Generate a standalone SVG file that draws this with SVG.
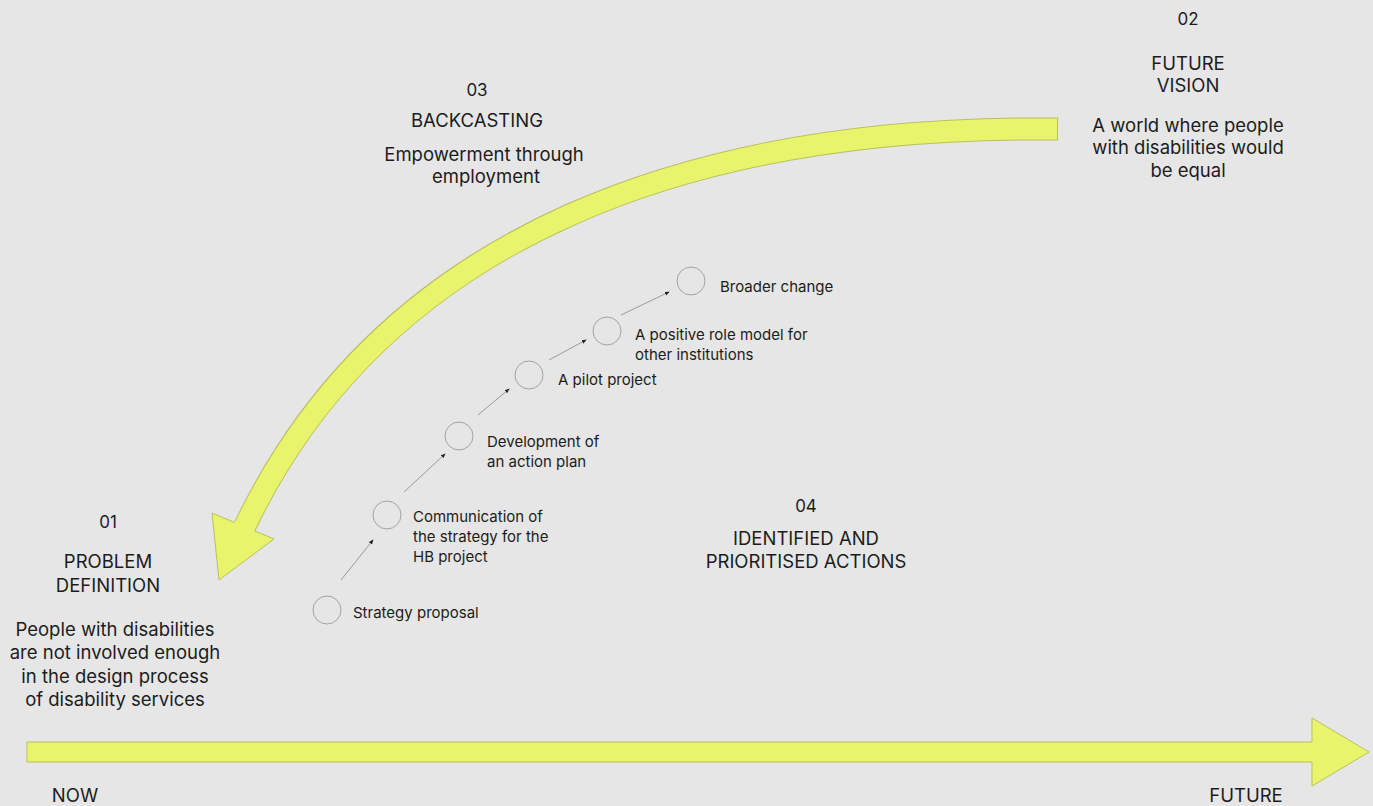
<svg xmlns="http://www.w3.org/2000/svg" width="1373" height="806" viewBox="0 0 1373 806">
  <style>
    .bg { fill: #e6e6e6; }
    .band-edge { fill: none; stroke: #b9c05e; stroke-width: 23; }
    .band { fill: none; stroke: #e8f56c; stroke-width: 21; }
    .head { fill: #e8f56c; stroke: #b9c05e; stroke-width: 1; stroke-linejoin: miter; }
    .step { fill: none; stroke: #a3a3a3; stroke-width: 1; }
    .link { fill: none; stroke: #777; stroke-width: 0.7; }
    text { font-family: Inter, "Liberation Sans", sans-serif; fill: #1c1c1c; }
    .num { font-size: 17px; text-anchor: middle; }
    .title { font-size: 18.5px; text-anchor: middle; }
    .body { font-size: 18.5px; text-anchor: middle; }
    .small { font-size: 15px; }
  </style>
  <defs>
    <marker id="tip" viewBox="0 0 6 6" refX="5" refY="3" markerWidth="5" markerHeight="5" markerUnits="userSpaceOnUse" orient="auto">
      <path d="M0,0.6 L6,3 L0,5.4 Z" fill="#222"/>
    </marker>
  </defs>

  <rect class="bg" x="0" y="0" width="1373" height="806"/>

  <!-- large arrows -->
  <g id="connectors">
    <!-- timeline arrow: now to future -->
    <path id="timeline" class="head" d="M27,742 L1312,742 L1312,718 L1369,752 L1312,786 L1312,762 L27,762 Z"/>
    <!-- backcasting arc from future vision back to problem definition -->
    <g id="backcast-arc">
      <path class="band-edge" d="M1058,129 C700,125 387,229 245,526"/>
      <polygon class="head" points="212,513 274,539 219,580"/>
      <path class="band" d="M1057,129 C700,125 387,229 244,528"/>
    </g>
    <!-- steps between actions -->
    <line class="link" x1="341" y1="580" x2="373" y2="540" marker-end="url(#tip)"/>
    <line class="link" x1="404" y1="492" x2="445" y2="454" marker-end="url(#tip)"/>
    <line class="link" x1="478" y1="415" x2="509" y2="389" marker-end="url(#tip)"/>
    <line class="link" x1="549" y1="360" x2="586" y2="340" marker-end="url(#tip)"/>
    <line class="link" x1="621" y1="315" x2="669" y2="292" marker-end="url(#tip)"/>
  </g>

  <!-- phase labels -->
  <g id="problem-definition">
    <text class="num" x="108" y="528">01</text>
    <text class="title" x="108" y="568">PROBLEM</text>
    <text class="title" x="108" y="592">DEFINITION</text>
    <text class="body" x="115" y="636">People with disabilities</text>
    <text class="body" x="115" y="659">are not involved enough</text>
    <text class="body" x="115" y="683">in the design process</text>
    <text class="body" x="115" y="706">of disability services</text>
  </g>

  <g id="future-vision">
    <text class="num" x="1188" y="25">02</text>
    <text class="title" x="1188" y="70">FUTURE</text>
    <text class="title" x="1188" y="92">VISION</text>
    <text class="body" x="1188" y="132">A world where people</text>
    <text class="body" x="1188" y="154">with disabilities would</text>
    <text class="body" x="1188" y="177">be equal</text>
  </g>

  <g id="backcasting">
    <text class="num" x="477" y="96">03</text>
    <text class="title" x="477" y="127">BACKCASTING</text>
    <text class="body" x="484" y="161">Empowerment through</text>
    <text class="body" x="486" y="183">employment</text>
  </g>

  <g id="identified-actions">
    <text class="num" x="806" y="512">04</text>
    <text class="title" x="806" y="545">IDENTIFIED AND</text>
    <text class="title" x="806" y="568">PRIORITISED ACTIONS</text>
  </g>

  <!-- action steps -->
  <g id="strategy-proposal">
    <circle class="step" cx="327" cy="610" r="14"/>
    <text class="small" x="353" y="618">Strategy proposal</text>
  </g>
  <g id="communication">
    <circle class="step" cx="387" cy="515" r="14"/>
    <text class="small" x="413" y="522">Communication of</text>
    <text class="small" x="413" y="542">the strategy for the</text>
    <text class="small" x="413" y="562">HB project</text>
  </g>
  <g id="action-plan">
    <circle class="step" cx="459" cy="436" r="14"/>
    <text class="small" x="487" y="447">Development of</text>
    <text class="small" x="487" y="467">an action plan</text>
  </g>
  <g id="pilot-project">
    <circle class="step" cx="529" cy="375" r="14"/>
    <text class="small" x="558" y="385">A pilot project</text>
  </g>
  <g id="role-model">
    <circle class="step" cx="607" cy="331" r="14"/>
    <text class="small" x="635" y="340">A positive role model for</text>
    <text class="small" x="635" y="360">other institutions</text>
  </g>
  <g id="broader-change">
    <circle class="step" cx="691" cy="281" r="14"/>
    <text class="small" x="720" y="292">Broader change</text>
  </g>

  <!-- time axis ends -->
  <g id="now">
    <text class="title" x="75" y="802">NOW</text>
  </g>
  <g id="future">
    <text class="title" x="1246" y="802">FUTURE</text>
  </g>
</svg>
